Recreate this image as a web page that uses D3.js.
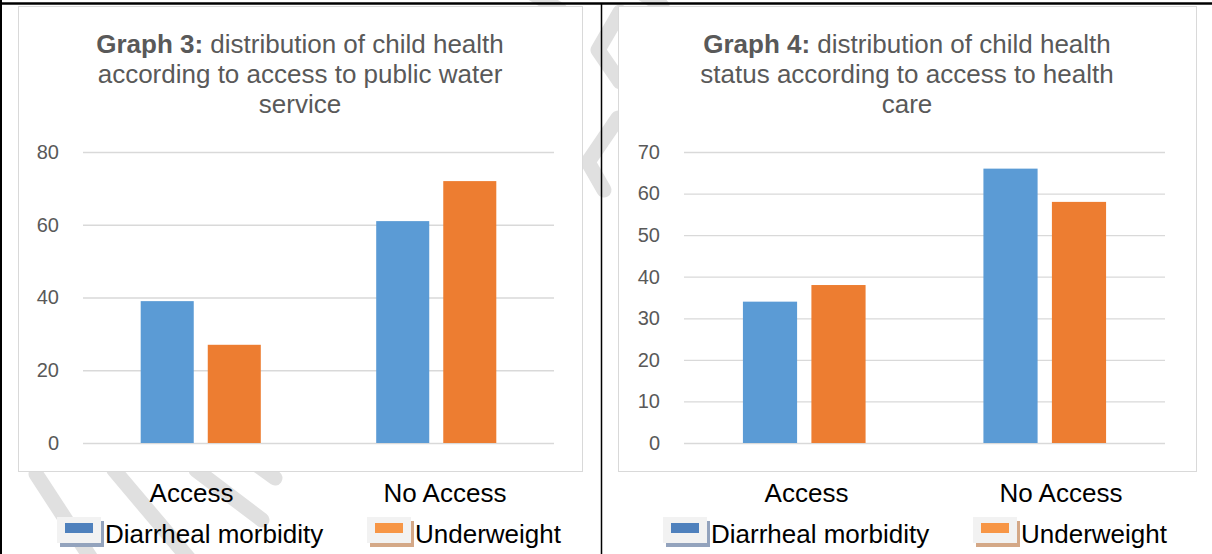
<!DOCTYPE html>
<html>
<head>
<meta charset="utf-8">
<script src="https://cdn.jsdelivr.net/npm/d3@7"></script>
<style>
body { margin: 0; background: #fff; }
svg { display: block; }
text { font-family: "Liberation Sans", Arial, sans-serif; }
</style>
</head>
<body>
<svg id="root" width="1212" height="554"></svg>
<script>
var categories = ['Access', 'No Access']
var seriesNames = ['Diarrheal morbidity', 'Underweight']

// graph 3 : public water service
var waterDiarrheal = [39, 61]
var waterUnderweight = [27, 72]
var waterTicks = [0, 20, 40, 60, 80]
var waterTitle = ['distribution of child health', 'according to access to public water', 'service']

// graph 4 : health care
var careDiarrheal = [34, 66]
var careUnderweight = [38, 58]
var careTicks = [0, 10, 20, 30, 40, 50, 60, 70]
var careTitle = ['distribution of child health', 'status according to access to health', 'care']

var barColors = ['#5b9bd5', '#ed7d31']
var legendColors = ['#4f81bd', '#f79646']
var shadowColors = ['#93a3bd', '#d4a887']

var svg = d3.select('#root')

// faint watermark strokes behind everything
var wm = svg.append('g')
    .attr('fill', 'none')
    .attr('stroke', '#e0e0e0')
    .attr('stroke-width', 15)
    .attr('stroke-linecap', 'round')
    .attr('stroke-linejoin', 'round')
var line = d3.line()
var marks = [
    [[620, 12], [598, 50], [620, 82]],
    [[618, 118], [588, 162], [604, 190]],
    [[36, 474], [92, 560]],
    [[114, 470], [190, 560]],
    [[196, 470], [262, 520]],
    [[250, 460], [275, 478]],
    [[530, -8], [560, 10]],
    [[640, -8], [662, 6]]
]
wm.selectAll('path').data(marks).enter().append('path').attr('d', line)

// outer black frame
svg.append('line').attr('x1', 0).attr('x2', 1212).attr('y1', 3.5).attr('y2', 3.5)
    .attr('stroke', '#000').attr('stroke-width', 2.5)
svg.append('line').attr('x1', 1).attr('x2', 1).attr('y1', 0).attr('y2', 554)
    .attr('stroke', '#000').attr('stroke-width', 2)
svg.append('line').attr('x1', 601.5).attr('x2', 601.5).attr('y1', 3).attr('y2', 554)
    .attr('stroke', '#000').attr('stroke-width', 1.5)

function drawPanel(p) {
    var g = svg.append('g')

    // chart area box
    g.append('rect')
        .attr('x', p.box[0] + 0.5).attr('y', p.box[1] + 0.5)
        .attr('width', p.box[2] - p.box[0]).attr('height', p.box[3] - p.box[1])
        .attr('fill', '#fff').attr('stroke', '#d9d9d9')

    // title
    var cx = (p.box[0] + p.box[2]) / 2
    var title = g.append('text')
        .attr('text-anchor', 'middle')
        .attr('fill', '#595959')
        .style('font-size', '26px')
    var t0 = title.append('tspan').attr('x', cx).attr('y', 53)
    t0.append('tspan').attr('font-weight', 'bold').text(p.label)
    t0.append('tspan').text(' ' + p.title[0])
    title.append('tspan').attr('x', cx).attr('y', 83).text(p.title[1])
    title.append('tspan').attr('x', cx).attr('y', 112.5).text(p.title[2])

    var y = d3.scaleLinear().domain([0, p.ticks[p.ticks.length - 1]]).range([443, 152])
    var x0 = d3.scaleBand().domain(categories).range(p.plotX)
    var groupW = x0.bandwidth() * 0.51
    var x1 = d3.scaleBand().domain(seriesNames).range([0, groupW]).paddingInner(0.209)

    // gridlines + tick labels
    var yAxis = d3.axisLeft(y).tickValues(p.ticks).tickSize(-(p.plotX[1] - p.plotX[0])).tickPadding(24)
    var ax = g.append('g').attr('transform', 'translate(' + p.plotX[0] + ',0)').call(yAxis)
    ax.select('.domain').remove()
    ax.selectAll('.tick line').attr('stroke', '#d9d9d9').attr('stroke-width', 1.3)
    ax.selectAll('.tick text')
        .attr('fill', '#595959')
        .style('font-size', '20px')
        .style('font-family', '"Liberation Sans", Arial, sans-serif')

    // bars
    var rows = categories.map(function (c, i) {
        return { cat: c, vals: [p.diarrheal[i], p.underweight[i]] }
    })
    var grp = g.selectAll('g.cat').data(rows).enter().append('g')
        .attr('class', 'cat')
        .attr('transform', function (d) {
            return 'translate(' + (x0(d.cat) + (x0.bandwidth() - groupW) / 2) + ',0)'
        })
    grp.selectAll('rect').data(function (d) {
        return d.vals.map(function (v, j) { return { s: seriesNames[j], v: v, j: j } })
    }).enter().append('rect')
        .attr('x', function (d) { return x1(d.s) })
        .attr('width', x1.bandwidth())
        .attr('y', function (d) { return y(d.v) })
        .attr('height', function (d) { return 443 - y(d.v) })
        .attr('fill', function (d) { return barColors[d.j] })

    // category labels below the box
    var xl = d3.scalePoint().domain(categories).range(p.labelX)
    g.selectAll('text.cat').data(categories).enter().append('text')
        .attr('class', 'cat')
        .attr('x', function (d) { return xl(d) })
        .attr('y', 502)
        .attr('text-anchor', 'middle')
        .attr('fill', '#000')
        .style('font-size', '26px')
        .text(function (d) { return d })

    // legend
    var leg = g.selectAll('g.leg').data(seriesNames).enter().append('g')
        .attr('class', 'leg')
        .attr('transform', function (d, i) { return 'translate(' + (p.legendX + i * 310) + ',517)' })
    leg.append('rect').attr('x', 3).attr('y', 4).attr('width', 44).attr('height', 26)
        .attr('fill', function (d, i) { return shadowColors[i] })
    leg.append('rect').attr('x', 0).attr('y', 0).attr('width', 44).attr('height', 26)
        .attr('fill', '#f2f2f2')
    leg.append('rect').attr('x', 8).attr('y', 6).attr('width', 28).attr('height', 10)
        .attr('fill', function (d, i) { return legendColors[i] })
    leg.append('text')
        .attr('x', 48).attr('y', 26)
        .attr('fill', '#000')
        .style('font-size', '26px')
        .text(function (d) { return d })
}

drawPanel({
    label: 'Graph 3:', title: waterTitle,
    diarrheal: waterDiarrheal, underweight: waterUnderweight, ticks: waterTicks,
    box: [18, 6, 582, 471], plotX: [83, 554], labelX: [191.5, 445], legendX: 57
})
drawPanel({
    label: 'Graph 4:', title: careTitle,
    diarrheal: careDiarrheal, underweight: careUnderweight, ticks: careTicks,
    box: [618, 6, 1196, 471], plotX: [684, 1165], labelX: [806.5, 1061], legendX: 663
})
</script>
</body>
</html>
